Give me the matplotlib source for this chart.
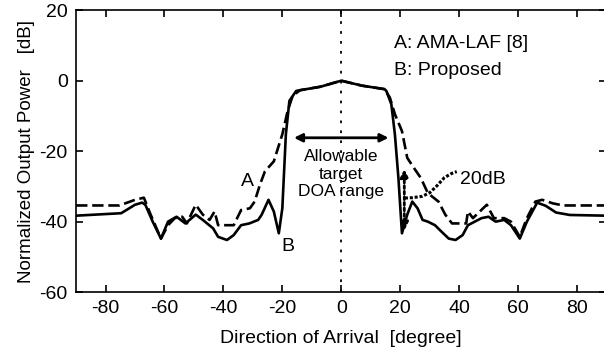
import matplotlib
matplotlib.use("Agg")
import matplotlib.pyplot as plt

plt.rcParams['font.family'] = ['Liberation Sans', 'DejaVu Sans']
plt.rcParams['axes.unicode_minus'] = False

# --- data ---
doa_a = [-90, -75.3, -70, -67, -64.7, -61.2, -58.8, -56.5, -54, -52.4, -49.4, -47, -44.7, -43, -41.8,
         -36.5, -34, -31, -29.4, -27.6, -25.9, -22.9, -20, -18.2, -16.5, -14, -7, 0, 7, 14.7, 16.5,
         18.2, 20.6, 22.4, 24.7, 27, 29.4, 33, 35.3, 37.6, 42.4, 43, 44.7, 49.4, 51.8, 55.3, 57.6,
         60.6, 63, 65.9, 68.2, 71.8, 75.3, 90]
pow_a = [-35.4, -35.4, -33.8, -33.2, -38, -44.8, -41, -39, -38.6, -40.5, -35.2, -38, -39.5, -37.1, -41,
         -41, -36.7, -36.2, -34.3, -29.5, -25.7, -22.9, -15.2, -8.6, -4.3, -2.7, -1.7, 0, -1.4, -2.4, -4.8,
         -9.5, -14.3, -21.9, -24.8, -27.6, -31.9, -34.3, -38, -40.5, -40.5, -37.1, -39, -35.2, -39, -39, -40,
         -44.3, -39, -34.3, -33.8, -34.8, -35.4, -35.4]

doa_b = [-90, -74.7, -70, -67.6, -66.5, -64, -61.2, -58.8, -55.9, -52.9, -49.4, -47, -43.5, -41.8, -38.8,
         -36.5, -34, -31.2, -28.2, -27, -24.7, -22.9, -21.2, -20, -18.8, -17.6, -15.3, -14, -7, 0, 7, 14.7,
         15.3, 17, 18.2, 19.4, 20.6, 22.4, 24.1, 25.9, 27.6, 29.4, 31.8, 34.1, 36.5, 38.8, 41.2, 43, 45.3,
         47.6, 50, 52.4, 55.3, 57.6, 60.6, 63, 66.5, 69.4, 72.9, 77.6, 90]
pow_b = [-38.3, -37.6, -35.2, -34.6, -35.2, -40, -44.8, -40, -38.6, -40.5, -38, -39.5, -41.9, -44.3, -45.2,
         -43.8, -41, -40.5, -39.5, -38, -33.8, -37.1, -43.3, -36.2, -15.2, -5.7, -2.9, -2.7, -1.7, 0, -1.4, -2.4,
         -2.9, -6.7, -15.2, -27.6, -43.3, -38, -34.3, -36.2, -39.5, -40, -41, -42.9, -44.8, -45.2, -43.8, -41, -40,
         -39, -38.6, -40, -39.5, -41, -44.8, -40, -34.6, -35.5, -37.4, -38.1, -38.3]

# dotted pointer from the 20 dB arrow to its label
ptr_doa = [21.6, 24, 27.5, 30, 32.5, 35, 37.5, 39.2]
ptr_pow = [-33.3, -33.2, -32.8, -31.8, -29.8, -27.5, -26.3, -25.8]

fig = plt.figure(figsize=(6.04, 3.52), dpi=100)
ax = fig.add_axes([0.126, 0.170, 0.878, 0.801])

ax.plot(doa_a, pow_a, color='black', lw=1.9, ls=(0, (4.3, 1.8)))
ax.plot(doa_b, pow_b, color='black', lw=1.9)
ax.axvline(0, color='black', lw=1.3, ls=(0, (1.5, 4)))

# allowable DOA range arrow
ax.annotate('', xy=(-17, -16.2), xytext=(17, -16.2),
            arrowprops=dict(arrowstyle='<|-|>', color='black', lw=2, mutation_scale=12))
ax.text(0, -26.5, 'Allowable\ntarget\nDOA range', ha='center', va='center', fontsize=12.5,
        linespacing=1.2)

# 20 dB arrow
ax.annotate('', xy=(21.4, -24.3), xytext=(21.4, -43.3),
            arrowprops=dict(arrowstyle='<|-|>', color='black', lw=2, ls=(0, (1, 1)),
                            mutation_scale=12))
ax.plot(ptr_doa, ptr_pow, color='black', lw=2.2, ls=(0, (1, 0.6)))
ax.text(40.3, -28, '20dB', ha='left', va='center', fontsize=14)

ax.text(-31.8, -28.6, 'A', ha='center', va='center', fontsize=14)
ax.text(-18.2, -47, 'B', ha='center', va='center', fontsize=14)
ax.text(18, 10.5, 'A: AMA-LAF [8]', ha='left', va='center', fontsize=14)
ax.text(18, 2.9, 'B: Proposed', ha='left', va='center', fontsize=14)

ax.set_xlim(-90, 90)
ax.set_ylim(-60, 20)
ax.set_xticks([-80, -60, -40, -20, 0, 20, 40, 60, 80])
ax.set_yticks([-60, -40, -20, 0, 20])
ax.tick_params(direction='in', top=True, right=True, length=5, width=1.2, labelsize=14, pad=6)
for s in ax.spines.values():
    s.set_linewidth(1.2)
ax.set_xlabel('Direction of Arrival  [degree]', fontsize=14, labelpad=9)
ax.set_ylabel('Normalized Output Power   [dB]', fontsize=13.5, labelpad=3)

fig.savefig('out.png', dpi=100)
